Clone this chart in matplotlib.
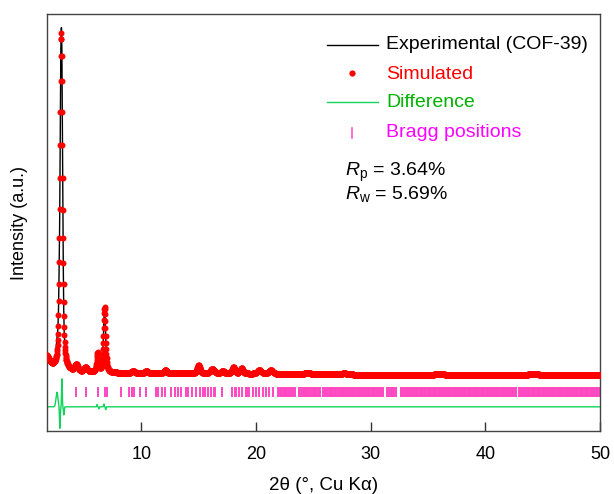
import numpy as np
import matplotlib
matplotlib.use('Agg')
import matplotlib.pyplot as plt

plt.rcParams['font.family'] = ['Liberation Sans', 'DejaVu Sans']
plt.rcParams['mathtext.fontset'] = 'custom'
plt.rcParams['mathtext.rm'] = 'Liberation Sans'
plt.rcParams['mathtext.it'] = 'Liberation Sans:italic'

# Peaks (2theta, height above background, FWHM, lorentz fraction)
peak_pos = [1.5, 3.02, 4.34, 5.15, 6.2, 6.8, 9.3, 10.45, 12.1, 15.0, 16.2, 17.1,
            18.05, 18.75, 20.3, 21.3, 24.5, 27.7, 36.0, 44.2]
peak_height = [0.06, 0.81, 0.016, 0.011, 0.045, 0.157, 0.006, 0.006, 0.008, 0.02, 0.011, 0.007,
               0.015, 0.013, 0.009, 0.009, 0.004, 0.003, 0.002, 0.002]
peak_fwhm = [0.8, 0.27, 0.3, 0.3, 0.2, 0.22, 0.3, 0.3, 0.3, 0.3, 0.4, 0.3,
             0.3, 0.3, 0.4, 0.4, 0.5, 0.5, 0.6, 0.6]
peak_eta = [1.0, 0.4, 0.5, 0.5, 0.5, 0.5, 0.5, 0.5, 0.5, 0.5, 0.5, 0.5,
            0.5, 0.5, 0.5, 0.5, 0.5, 0.5, 0.5, 0.5]

# Background level
bg_pos = [1.7, 5.0, 10.0, 20.0, 30.0, 50.0]
bg_level = [0.141, 0.14, 0.138, 0.137, 0.135, 0.135]

# Misfit features (experimental - simulated)
res_pos = [2.65, 2.9, 3.08, 3.25, 6.15, 6.3, 6.75, 6.9]
res_amp = [0.035, -0.052, 0.067, -0.02, 0.006, -0.005, 0.007, -0.007]
res_width = [0.2, 0.08, 0.07, 0.08, 0.06, 0.06, 0.06, 0.06]
diff_offset = 0.058

# Bragg positions
bragg = [3.05, 4.34, 5.2, 6.2, 6.8, 7.0, 8.2, 8.9, 9.2, 9.4, 9.9, 10.4, 11.3, 11.5, 11.8,
         12.1, 12.6, 12.9, 13.2, 13.5, 13.9, 14.1, 14.4, 14.8, 15.1, 15.4, 15.6, 15.8, 16.1,
         16.3, 16.4, 17.0, 17.9, 18.2, 18.3, 18.5, 18.8, 19.1, 19.2, 19.4, 19.7, 20.0, 20.3,
         20.6, 20.9, 21.1, 21.5,
         21.93, 22.08, 22.21, 22.37, 22.52, 22.66, 22.80, 22.95, 23.10, 23.24, 23.38,
         23.72, 23.86, 24.01, 24.15, 24.30, 24.44, 24.58, 24.73, 24.88, 25.02, 25.17, 25.31,
         25.46, 25.58, 25.85, 25.99, 26.13, 26.28, 26.42, 26.57, 26.71, 26.86, 27.00, 27.14,
         27.29, 27.43, 27.58, 27.72, 27.86, 28.01, 28.15, 28.30, 28.44, 28.59, 28.73, 28.87,
         29.02, 29.16, 29.31, 29.45, 29.60, 29.74, 29.88, 30.03, 30.17, 30.32, 30.46, 30.61,
         30.75, 30.89, 31.04, 31.47, 31.61, 31.76, 31.90, 32.05, 32.19, 32.62, 32.76, 32.91,
         33.05, 33.20, 33.34, 33.49, 33.63, 33.77, 33.92, 34.06, 34.21, 34.35, 34.50, 34.64,
         34.78, 34.93, 35.07, 35.22, 35.36, 35.51, 35.65, 35.79, 35.94, 36.08, 36.23, 36.37,
         36.52, 36.66, 36.80, 36.95, 37.09, 37.24, 37.38, 37.53, 37.67, 37.81, 37.96, 38.10,
         38.25, 38.39, 38.54, 38.68, 38.82, 38.97, 39.11, 39.26, 39.40, 39.55, 39.69, 39.83,
         39.98, 40.12, 40.27, 40.41, 40.56, 40.70, 40.84, 40.99, 41.13, 41.28, 41.42, 41.57,
         41.71, 41.85, 42.00, 42.14, 42.29, 42.43, 42.58, 42.70, 42.98, 43.12, 43.27, 43.41,
         43.56, 43.70, 43.84, 43.99, 44.13, 44.28, 44.42, 44.57, 44.71, 44.85, 45.00, 45.14,
         45.29, 45.43, 45.58, 45.72, 45.86, 46.01, 46.15, 46.30, 46.44, 46.59, 46.73, 46.87,
         47.02, 47.16, 47.31, 47.45, 47.60, 47.74, 47.88, 48.03, 48.17, 48.32, 48.46, 48.61,
         48.75, 48.89, 49.04, 49.18, 49.33, 49.47, 49.62, 49.76, 49.90]
bragg_low, bragg_high = 0.082, 0.106

# Profile from the peak list (pseudo-Voigt on a 0.02 deg step)
two_theta = np.arange(1.8, 50.0, 0.02)
sim = np.interp(two_theta, bg_pos, bg_level)
for p, h, w, eta in zip(peak_pos, peak_height, peak_fwhm, peak_eta):
    d = (two_theta - p) / (w / 2)
    sim += h * (eta / (1 + d**2) + (1 - eta) * np.exp(-np.log(2) * d**2))

res = np.zeros_like(two_theta)
for p, a, w in zip(res_pos, res_amp, res_width):
    res += a * np.exp(-4 * np.log(2) * ((two_theta - p) / w)**2)
exp = sim + res
diff = diff_offset + res

fig = plt.figure(figsize=(6.14, 4.94), dpi=100)
ax = fig.add_axes([47/614, 63/494, 553/614, 417/494])

ax.plot(two_theta, exp, color='black', lw=1.0, zorder=2)
ax.plot(two_theta, sim, 'o', color='red', ms=4.3, mew=0, zorder=3)
ax.plot(two_theta, diff, color='#11d45a', lw=1.0, zorder=2)
ax.vlines(bragg, bragg_low, bragg_high, color='#ff47c2', lw=1.4, zorder=1)

ax.set_xlim(1.78, 50)
ax.set_ylim(0, 1)
ax.set_xticks([10, 20, 30, 40, 50])
ax.set_yticks([])
ax.tick_params(axis='x', direction='in', length=6.5, width=1.0, labelsize=13, pad=11, color='#333333')
for s in ax.spines.values():
    s.set_linewidth(1.0)
    s.set_color('#444444')
ax.set_xlabel('2θ (°, Cu Kα)', fontsize=13.5, labelpad=10)
ax.set_ylabel('Intensity (a.u.)', fontsize=13, labelpad=14)

# Legend drawn by hand
tr = ax.transAxes
ax.plot([0.506, 0.599], [0.926, 0.926], color='black', lw=1.0, transform=tr)
ax.text(0.613, 0.926, 'Experimental (COF-39)', fontsize=14, va='center', transform=tr)
ax.plot([0.552], [0.859], 'o', color='red', ms=4.5, mew=0, transform=tr)
ax.text(0.613, 0.856, 'Simulated', fontsize=14, color='red', va='center', transform=tr)
ax.plot([0.506, 0.599], [0.789, 0.789], color='#11d45a', lw=1.0, transform=tr)
ax.text(0.613, 0.787, 'Difference', fontsize=14, color='#00b200', va='center', transform=tr)
ax.plot([0.552, 0.552], [0.703, 0.727], color='#ff47c2', lw=1.1, transform=tr)
ax.text(0.613, 0.717, 'Bragg positions', fontsize=14, color='#ff00ff', va='center', transform=tr)
ax.text(0.539, 0.612, r'$\mathit{R}_\mathrm{p}$ = 3.64%', fontsize=14, va='baseline', transform=tr)
ax.text(0.539, 0.556, r'$\mathit{R}_\mathrm{w}$ = 5.69%', fontsize=14, va='baseline', transform=tr)

fig.savefig('out.png', dpi=100)
